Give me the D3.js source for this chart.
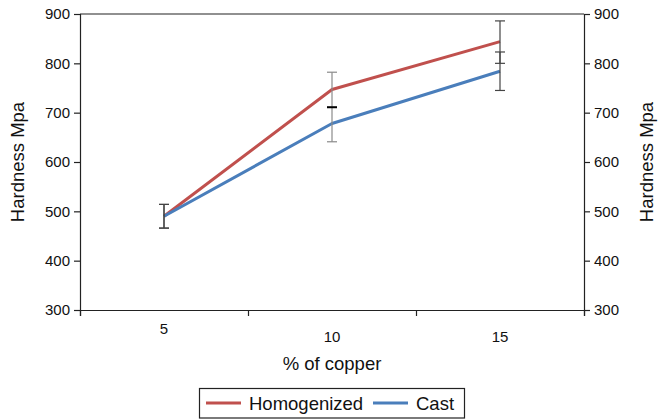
<!DOCTYPE html>
<html><head><meta charset="utf-8">
<script src="https://cdn.jsdelivr.net/npm/d3@7"></script>
<style>body{margin:0;background:#fff}svg{display:block}text{font-family:"Liberation Sans",Arial,sans-serif;fill:#111}</style>
</head><body><svg id="c" width="659" height="419"></svg>
<script>
const copper = [5, 10, 15];
const homogenized = [490, 747, 844];
const cast = [490, 678, 784];
const homHigh = [514, 782, 886];
const homLow = [466, 711, 800];
const castHigh = [514, 711, 823];
const castLow = [466, 641, 745];
const yTicks = [300, 400, 500, 600, 700, 800, 900];
const xLabels = ["5", "10", "15"];
const seriesNames = ["Homogenized", "Cast"];
const colors = ["#c0504d", "#4a7ebb"];

const svg = d3.select("#c");
const L = 80, R = 584, T = 14, B = 310;
const x = d3.scaleLinear().domain([2.5, 17.5]).range([L, R]);
const y = d3.scaleLinear().domain([300, 900]).range([B, T]);

svg.append("line").attr("x1", L).attr("x2", R).attr("y1", T).attr("y2", T).attr("stroke", "#222").attr("stroke-width", 1.2);

const gl = svg.append("g").attr("transform", `translate(${L},0)`)
  .call(d3.axisLeft(y).tickValues(yTicks).tickSize(6).tickPadding(4).tickFormat(d3.format("d")));
const gr = svg.append("g").attr("transform", `translate(${R},0)`)
  .call(d3.axisRight(y).tickValues(yTicks).tickSize(6).tickPadding(4).tickFormat(d3.format("d")));
const gb = svg.append("g").attr("transform", `translate(0,${B})`)
  .call(d3.axisBottom(x).tickValues([2.5, 7.5, 12.5, 17.5]).tickSize(6).tickFormat(""));
[gl, gr, gb].forEach(g => {
  g.select(".domain").attr("stroke", "#222").attr("stroke-width", 1.2);
  g.selectAll(".tick line").attr("stroke", "#222").attr("stroke-width", 1.2);
  g.selectAll(".tick text").attr("font-size", 15).attr("fill", "#111").attr("font-family", "Liberation Sans, Arial, sans-serif");
});

svg.selectAll(".xl").data(copper).enter().append("text")
  .attr("x", d => x(d)).attr("y", (d, i) => i === 0 ? 334 : 342)
  .attr("text-anchor", "middle").attr("font-size", 15).text((d, i) => xLabels[i]);

svg.append("text").attr("x", 332).attr("y", 370).attr("text-anchor", "middle").attr("font-size", 18.5).text("% of copper");
svg.append("text").attr("transform", `translate(24,${(T + B) / 2}) rotate(-90)`).attr("text-anchor", "middle").attr("font-size", 18.5).text("Hardness Mpa");
svg.append("text").attr("transform", `translate(653,${(T + B) / 2}) rotate(-90)`).attr("text-anchor", "middle").attr("font-size", 18.5).text("Hardness Mpa");

const line = d3.line().x((d, i) => x(copper[i])).y(d => y(d));
[homogenized, cast].forEach((s, k) => {
  svg.append("path").datum(s).attr("d", line).attr("fill", "none")
    .attr("stroke", colors[k]).attr("stroke-width", 3).attr("stroke-linejoin", "round");
});

const barColor = i => i === 1 ? "#8a8a8a" : "#444";
const cw = 5;
[[homHigh, homLow], [castHigh, castLow]].forEach(([hi, lo], k) => {
  copper.forEach((c, i) => {
    const cx = x(c);
    svg.append("line").attr("x1", cx).attr("x2", cx).attr("y1", y(hi[i])).attr("y2", y(lo[i]))
      .attr("stroke", barColor(i)).attr("stroke-width", 1.2);
    [hi[i], lo[i]].forEach((v, j) => {
      const black = (i === 1 && k === 1 && j === 0);
      svg.append("line").attr("x1", cx - cw).attr("x2", cx + cw).attr("y1", y(v)).attr("y2", y(v))
        .attr("stroke", black ? "#000" : barColor(i)).attr("stroke-width", black ? 2 : 1.2);
    });
  });
});

const lg = svg.append("g");
lg.append("rect").attr("x", 199.5).attr("y", 388.5).attr("width", 265).attr("height", 29.5).attr("fill", "#fff").attr("stroke", "#222").attr("stroke-width", 1.2);
const lx = [206, 373];
seriesNames.forEach((n, k) => {
  lg.append("line").attr("x1", lx[k]).attr("x2", lx[k] + 35).attr("y1", 403).attr("y2", 403).attr("stroke", colors[k]).attr("stroke-width", 3);
  lg.append("text").attr("x", lx[k] + 43).attr("y", 410).attr("font-size", 18.5).text(n);
});
</script></body></html>
